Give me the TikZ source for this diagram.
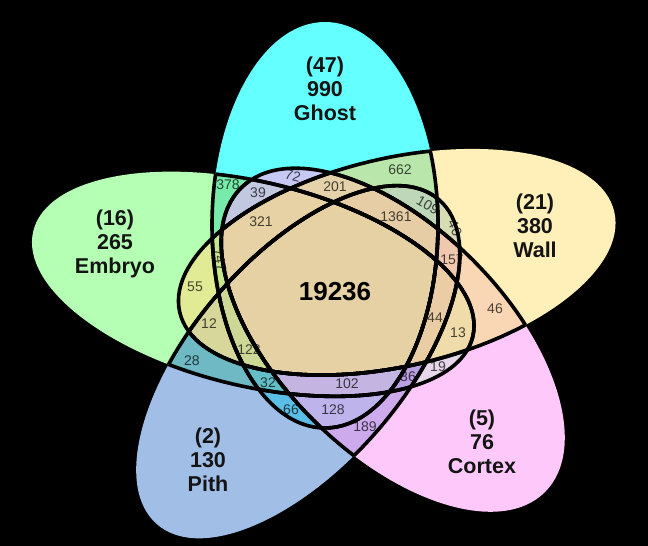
\documentclass[tikz,border=0pt]{standalone}
\usepackage{fontspec}
\setmainfont{Liberation Sans}
\definecolor{cG}{HTML}{64FFFF}
\definecolor{cW}{HTML}{FFF0B9}
\definecolor{cC}{HTML}{FFC8FA}
\definecolor{cP}{HTML}{A0BEE6}
\definecolor{cE}{HTML}{B4FFB4}
\definecolor{c378}{HTML}{78EBAA}
\definecolor{c72}{HTML}{C8C8F5}
\definecolor{c662}{HTML}{B9E6AA}
\definecolor{c40}{HTML}{D7DCB4}
\definecolor{c46}{HTML}{FAD7B4}
\definecolor{c19}{HTML}{E6D7EB}
\definecolor{c189}{HTML}{CDAAEB}
\definecolor{c66}{HTML}{5ABEE6}
\definecolor{c28}{HTML}{6EB9C3}
\definecolor{c55}{HTML}{E1EB96}
\definecolor{c39}{HTML}{C3C8E1}
\definecolor{c201}{HTML}{E6D2AA}
\definecolor{c109}{HTML}{BED7B9}
\definecolor{c157}{HTML}{F0C8AF}
\definecolor{c13}{HTML}{F0DCAA}
\definecolor{c36}{HTML}{B9A0E1}
\definecolor{c128}{HTML}{BEB4EB}
\definecolor{c32}{HTML}{64BEC8}
\definecolor{c12}{HTML}{D7D79B}
\definecolor{c747}{HTML}{C8E68C}
\definecolor{c1361}{HTML}{E6CDA5}
\definecolor{c44}{HTML}{EBCDA5}
\definecolor{c102}{HTML}{C3B4E1}
\definecolor{c122}{HTML}{CDD796}
\definecolor{c321}{HTML}{E6D2A5}
\definecolor{c19236}{HTML}{E6D1A5}
% ellipses: #1 = path command, #2 = extra options
\newcommand\EG[2]{#1[#2,shift={(325,321)}] (0,0) ellipse [x radius=113,y radius=203];}
\newcommand\EW[2]{#1[#2,shift={(397,284)},rotate=13] (0,0) ellipse [x radius=223,y radius=104];}
\newcommand\EC[2]{#1[#2,shift={(393,206)},rotate=-45] (0,0) ellipse [x radius=215,y radius=113];}
\newcommand\EP[2]{#1[#2,shift={(298,184)},rotate=49] (0,0) ellipse [x radius=215,y radius=105];}
\newcommand\EE[2]{#1[#2,shift={(253,262)},rotate=-13.5] (0,0) ellipse [x radius=226,y radius=102];}
\newcommand\reg[2]{\begin{scope}#1\fill[#2] (0,0) rectangle (648,546);\end{scope}}
\newcommand\olin[2]{\begin{scope}#1{\clip}{}#2{\draw}{outl}\end{scope}}
\begin{document}
\begin{tikzpicture}[x=1pt,y=1pt,
  outl/.style={draw=black,line width=3.6pt},
  big/.style={font=\fontsize{21.5}{24}\selectfont\bfseries,align=center,text=black!92,inner sep=0pt},
  num/.style={font=\fontsize{14}{16}\selectfont,text=black,text opacity=0.7,inner sep=0pt}]
\fill[black] (0,0) rectangle (648,546);
% single sets
\reg{\EG{\clip}{}}{cG}
\reg{\EW{\clip}{}}{cW}
\reg{\EC{\clip}{}}{cC}
\reg{\EP{\clip}{}}{cP}
\reg{\EE{\clip}{}}{cE}
% pairs
\reg{\EG{\clip}{}\EE{\clip}{}}{c378}
\reg{\EG{\clip}{}\EC{\clip}{}}{c72}
\reg{\EG{\clip}{}\EW{\clip}{}}{c662}
\reg{\EW{\clip}{}\EP{\clip}{}}{c40}
\reg{\EW{\clip}{}\EC{\clip}{}}{c46}
\reg{\EC{\clip}{}\EE{\clip}{}}{c19}
\reg{\EC{\clip}{}\EP{\clip}{}}{c189}
\reg{\EG{\clip}{}\EP{\clip}{}}{c66}
\reg{\EP{\clip}{}\EE{\clip}{}}{c28}
\reg{\EW{\clip}{}\EE{\clip}{}}{c55}
% triples
\reg{\EG{\clip}{}\EC{\clip}{}\EE{\clip}{}}{c39}
\reg{\EG{\clip}{}\EW{\clip}{}\EC{\clip}{}}{c201}
\reg{\EG{\clip}{}\EW{\clip}{}\EP{\clip}{}}{c109}
\reg{\EW{\clip}{}\EC{\clip}{}\EP{\clip}{}}{c157}
\reg{\EW{\clip}{}\EC{\clip}{}\EE{\clip}{}}{c13}
\reg{\EC{\clip}{}\EP{\clip}{}\EE{\clip}{}}{c36}
\reg{\EG{\clip}{}\EC{\clip}{}\EP{\clip}{}}{c128}
\reg{\EG{\clip}{}\EP{\clip}{}\EE{\clip}{}}{c32}
\reg{\EW{\clip}{}\EP{\clip}{}\EE{\clip}{}}{c12}
\reg{\EG{\clip}{}\EW{\clip}{}\EE{\clip}{}}{c747}
% quadruples
\reg{\EG{\clip}{}\EW{\clip}{}\EC{\clip}{}\EP{\clip}{}}{c1361}
\reg{\EW{\clip}{}\EC{\clip}{}\EP{\clip}{}\EE{\clip}{}}{c44}
\reg{\EG{\clip}{}\EC{\clip}{}\EP{\clip}{}\EE{\clip}{}}{c102}
\reg{\EG{\clip}{}\EW{\clip}{}\EP{\clip}{}\EE{\clip}{}}{c122}
\reg{\EG{\clip}{}\EW{\clip}{}\EC{\clip}{}\EE{\clip}{}}{c321}
% all five
\reg{\EG{\clip}{}\EW{\clip}{}\EC{\clip}{}\EP{\clip}{}\EE{\clip}{}}{c19236}
% outlines: each boundary where it lies inside another set
\olin\EW\EG \olin\EC\EG \olin\EP\EG \olin\EE\EG
\olin\EG\EW \olin\EC\EW \olin\EP\EW \olin\EE\EW
\olin\EG\EC \olin\EW\EC \olin\EP\EC \olin\EE\EC
\olin\EG\EP \olin\EW\EP \olin\EC\EP \olin\EE\EP
\olin\EG\EE \olin\EW\EE \olin\EC\EE \olin\EP\EE
% set labels
\node[big] (lG) at (325,457) {(47)\\990\\Ghost};
\node[big] (lE) at (115,302) {(16)\\265\\Embryo};
\node[big] (lW) at (535,320) {(21)\\380\\Wall};
\node[big] (lP) at (208,86) {(2)\\130\\Pith};
\node[big] (lC) at (482,104) {(5)\\76\\Cortex};
\node[font=\fontsize{26}{30}\selectfont\bfseries,inner sep=0pt] (nall) at (335,254) {19236};
% region counts
\node[num] (n378) at (228,361) {378};
\node[num] (n39) at (258,353) {39};
\node[num,rotate=-15] (n72) at (293,370) {72};
\node[num] (n201) at (335,359) {201};
\node[num] (n662) at (400,376) {662};
\node[num] (n1361) at (396,329) {1361};
\node[num,rotate=-30] (n109) at (428,341) {109};
\node[num,rotate=-65] (n40) at (455,318) {40};
\node[num] (n157) at (452,286) {157};
\node[num] (n44) at (435,228) {44};
\node[num] (n13) at (458,213) {13};
\node[num] (n46) at (495,237) {46};
\node[num] (n19) at (438,179) {19};
\node[num] (n36) at (408,169) {36};
\node[num] (n102) at (347,162) {102};
\node[num] (n128) at (333,136) {128};
\node[num] (n189) at (365,119) {189};
\node[num] (n66) at (291,136) {66};
\node[num] (n32) at (268,163) {32};
\node[num] (n28) at (192,185) {28};
\node[num] (n12) at (209,222) {12};
\node[num] (n122) at (249,196) {122};
\node[num] (n55) at (195,259) {55};
\node[num,rotate=-80] (n747) at (220,286) {747};
\node[num] (n321) at (261,324) {321};
\pgfresetboundingbox
\useasboundingbox (0,0) rectangle (648,546);
\end{tikzpicture}
\end{document}
